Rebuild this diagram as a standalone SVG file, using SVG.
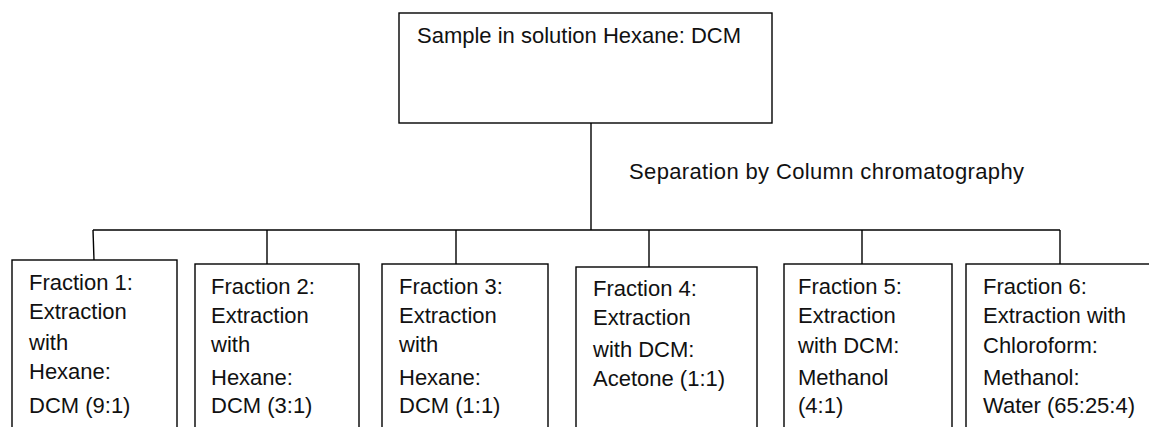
<svg xmlns="http://www.w3.org/2000/svg" width="1149" height="427" viewBox="0 0 1149 427">
<style>
.box{fill:#fff;stroke:#000;stroke-width:1.4}
.ln{fill:none;stroke:#000;stroke-width:1.4}
text{font-family:"Liberation Sans",Arial,sans-serif;font-size:22px;fill:#111}
</style>
<rect width="1149" height="427" fill="#fff"/>
<g id="connectors">
<path class="ln" d="M591 123 V230"/>
<path class="ln" d="M93 230 H1060"/>
<path class="ln" d="M93 230 L94 260"/>
<path class="ln" d="M267 230 V264"/>
<path class="ln" d="M456 230 V264"/>
<path class="ln" d="M649 230 V267"/>
<path class="ln" d="M862 230 V264"/>
<path class="ln" d="M1060 230 V264"/>
</g>
<g id="top">
<rect class="box" x="399" y="13" width="373" height="110"/>
<text x="417" y="43">Sample in solution Hexane: DCM</text>
</g>
<g id="label">
<text x="629" y="179" textLength="395">Separation by Column chromatography</text>
</g>
<g id="f1">
<rect class="box" x="12" y="260" width="165" height="180"/>
<text x="29" y="290">Fraction 1:</text>
<text x="29" y="319">Extraction</text>
<text x="29" y="350">with</text>
<text x="29" y="379">Hexane:</text>
<text x="29" y="413">DCM (9:1)</text>
</g>
<g id="f2">
<rect class="box" x="195" y="264" width="164" height="180"/>
<text x="211" y="294">Fraction 2:</text>
<text x="211" y="323">Extraction</text>
<text x="211" y="352">with</text>
<text x="211" y="385">Hexane:</text>
<text x="211" y="413">DCM (3:1)</text>
</g>
<g id="f3">
<rect class="box" x="382" y="264" width="166" height="180"/>
<text x="399" y="294">Fraction 3:</text>
<text x="399" y="323">Extraction</text>
<text x="399" y="352">with</text>
<text x="399" y="385">Hexane:</text>
<text x="399" y="413">DCM (1:1)</text>
</g>
<g id="f4">
<rect class="box" x="576" y="267" width="181" height="180"/>
<text x="593" y="296">Fraction 4:</text>
<text x="593" y="325">Extraction</text>
<text x="593" y="357">with DCM:</text>
<text x="593" y="386">Acetone (1:1)</text>
</g>
<g id="f5">
<rect class="box" x="784" y="264" width="168" height="180"/>
<text x="798" y="294">Fraction 5:</text>
<text x="798" y="323">Extraction</text>
<text x="798" y="353">with DCM:</text>
<text x="798" y="385">Methanol</text>
<text x="798" y="413">(4:1)</text>
</g>
<g id="f6">
<rect class="box" x="966" y="264" width="200" height="180"/>
<text x="983" y="294">Fraction 6:</text>
<text x="983" y="323">Extraction with</text>
<text x="983" y="353">Chloroform:</text>
<text x="983" y="385">Methanol:</text>
<text x="983" y="413">Water (65:25:4)</text>
</g>
</svg>
